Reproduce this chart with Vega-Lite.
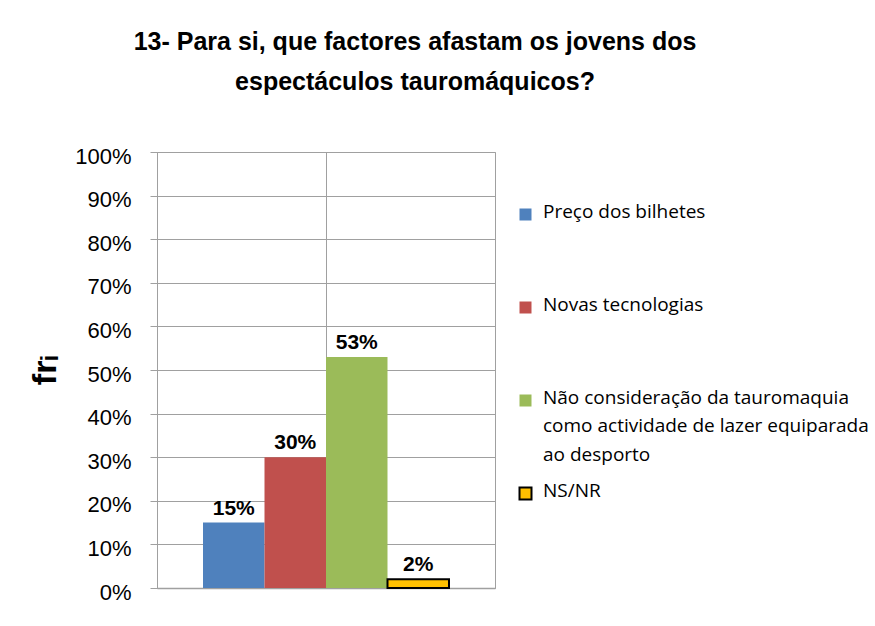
{
  "$schema": "https://vega.github.io/schema/vega-lite/v6.json",
  "width": 338,
  "height": 436,
  "padding": {"left": 28, "top": 30, "right": 0, "bottom": 30},
  "background": "#ffffff",
  "title": {
    "text": ["13- Para si, que factores afastam os jovens dos", "espectáculos tauromáquicos?"],
    "font": "Liberation Sans",
    "fontSize": 25,
    "fontWeight": "bold",
    "lineHeight": 40,
    "color": "#000000",
    "anchor": "middle",
    "frame": "group",
    "dx": 89,
    "offset": 50
  },
  "data": {
    "values": [
      {"g": "a", "series": "Preço dos bilhetes", "value": 0.15, "label": "15%"},
      {"g": "a", "series": "Novas tecnologias", "value": 0.30, "label": "30%"},
      {"g": "a", "series": "Não consideração da tauromaquia como actividade de lazer equiparada ao desporto", "value": 0.53, "label": "53%"},
      {"g": "a", "series": "NS/NR", "value": 0.02, "label": "2%"}
    ]
  },
  "encoding": {
    "x": {
      "field": "g",
      "type": "nominal",
      "scale": {"paddingInner": 0, "paddingOuter": 0.187},
      "axis": {
        "title": null,
        "labels": false,
        "ticks": false,
        "grid": true,
        "bandPosition": 0.5,
        "gridColor": "#a0a0a0",
        "domainColor": "#a0a0a0",
        "domainWidth": 1.5
      }
    },
    "xOffset": {
      "field": "series",
      "type": "nominal",
      "sort": ["Preço dos bilhetes", "Novas tecnologias", "Não consideração da tauromaquia como actividade de lazer equiparada ao desporto", "NS/NR"],
      "scale": {"paddingInner": 0, "paddingOuter": 0}
    },
    "y": {
      "field": "value",
      "type": "quantitative",
      "scale": {"domain": [0, 1]},
      "axis": {
        "title": "frᵢ",
        "titleFont": "Liberation Sans",
        "titleFontSize": 34,
        "titleFontWeight": "bold",
        "titleColor": "#000000",
        "titlePadding": 12,
        "values": [0, 0.1, 0.2, 0.3, 0.4, 0.5, 0.6, 0.7, 0.8, 0.9, 1],
        "format": ".0%",
        "labelFont": "Liberation Sans",
        "labelFontSize": 22,
        "labelColor": "#000000",
        "labelPadding": 19,
        "labelOffset": 4,
        "tickSize": 7,
        "tickColor": "#a0a0a0",
        "domainColor": "#a0a0a0",
        "gridColor": "#a0a0a0"
      }
    }
  },
  "layer": [
    {
      "mark": {"type": "bar", "strokeWidth": 2},
      "encoding": {
        "stroke": {
          "field": "series",
          "type": "nominal",
          "sort": ["Preço dos bilhetes", "Novas tecnologias", "Não consideração da tauromaquia como actividade de lazer equiparada ao desporto", "NS/NR"],
          "scale": {"range": ["rgba(0,0,0,0)", "rgba(0,0,0,0)", "rgba(0,0,0,0)", "#000000"]},
          "legend": null
        },
        "fill": {
          "field": "series",
          "type": "nominal",
          "sort": ["Preço dos bilhetes", "Novas tecnologias", "Não consideração da tauromaquia como actividade de lazer equiparada ao desporto", "NS/NR"],
          "scale": {"range": ["#4F81BD", "#C0504D", "#9BBB59", "#FFC000"]},
          "legend": {
            "title": null,
            "orient": "none",
            "legendX": 359,
            "legendY": 53,
            "direction": "vertical",
            "columns": 1,
            "gridAlign": "all",
            "rowPadding": 16,
            "symbolType": "square",
            "symbolSize": 144,
            "symbolStrokeWidth": 2,
            "labelFont": "Open Sans",
            "labelFontSize": 19,
            "labelColor": "#000000",
            "labelLimit": 500,
            "labelOffset": 8,
            "labelBaseline": "top",
            "labelExpr": "datum.label == 'NS/NR' || datum.label == 'Preço dos bilhetes' || datum.label == 'Novas tecnologias' ? datum.label : ['Não consideração da tauromaquia', 'como actividade de lazer equiparada', 'ao desporto']",
            "encode": {
              "labels": {"update": {"dy": {"value": -12}, "lineHeight": {"value": 28.5}}},
              "symbols": {"update": {"stroke": {"signal": "datum.value == 'NS/NR' ? '#000000' : 'transparent'"}}}
            }
          }
        }
      }
    },
    {
      "mark": {"type": "text", "baseline": "bottom", "dy": -4, "font": "Liberation Sans", "fontSize": 21, "fontWeight": "bold", "color": "#000000"},
      "encoding": {
        "text": {"field": "label"}
      }
    }
  ],
  "config": {
    "view": {"stroke": "#a0a0a0", "strokeWidth": 1}
  }
}
